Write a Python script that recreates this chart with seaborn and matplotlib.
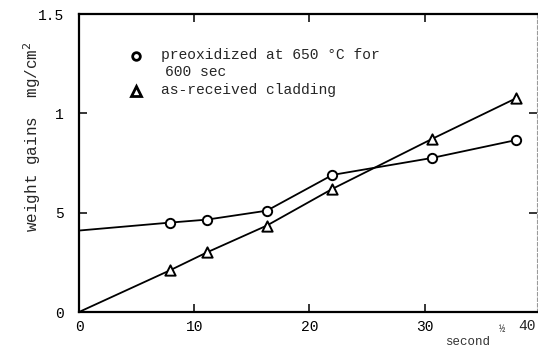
import matplotlib
matplotlib.use("Agg")
import matplotlib.pyplot as plt
import seaborn as sns
import pandas as pd

# square root of oxidation time (s^1/2)
time_sqrt = [7.9, 11.1, 16.3, 22.0, 30.6, 37.9]
preoxidized = [0.45, 0.465, 0.51, 0.69, 0.775, 0.865]
as_received = [0.21, 0.30, 0.435, 0.62, 0.87, 1.075]
preoxidized_start = 0.41
as_received_start = 0.0

x_ticks = [0, 10, 20, 30, 40]
x_tick_labels = ["0", "10", "20", "30", "40"]
y_ticks = [0, 0.5, 1.0, 1.5]
y_tick_labels = ["0", "5", "1", "1.5"]

sns.set_theme(style="ticks")
plt.rcParams["font.family"] = ["Liberation Mono", "DejaVu Sans Mono"]

fig = plt.figure(figsize=(5.38, 3.51), dpi=100)
ax = fig.add_axes([79 / 538, 1 - 312 / 351, (537 - 79) / 538, (312 - 14) / 351])

line_pre = pd.DataFrame({"x": [0.0] + time_sqrt, "y": [preoxidized_start] + preoxidized})
line_asr = pd.DataFrame({"x": [0.0] + time_sqrt, "y": [as_received_start] + as_received})
pts_pre = pd.DataFrame({"x": time_sqrt, "y": preoxidized})
pts_asr = pd.DataFrame({"x": time_sqrt, "y": as_received})

sns.lineplot(data=line_pre, x="x", y="y", ax=ax, color="black", lw=1.3, zorder=2)
sns.lineplot(data=line_asr, x="x", y="y", ax=ax, color="black", lw=1.3, zorder=2)
sns.scatterplot(data=pts_pre, x="x", y="y", ax=ax, marker="o", s=45,
                facecolor="white", edgecolor="black", linewidth=1.4, zorder=3)
sns.scatterplot(data=pts_asr, x="x", y="y", ax=ax, marker="^", s=55,
                facecolor="white", edgecolor="black", linewidth=1.4, zorder=3)

ax.set_xlim(0, 39.75)
ax.set_ylim(0, 1.5)
ax.set_xticks(x_ticks[:-1])
ax.set_xticklabels(x_tick_labels[:-1], fontsize=10.5)
ax.set_yticks(y_ticks)
ax.set_yticklabels(y_tick_labels, fontsize=10.5)
ax.tick_params(axis="both", direction="in", length=6, width=1.1, top=True, right=True,
               colors="black")
ax.tick_params(axis="x", pad=6)
ax.tick_params(axis="y", pad=11)
ax.set_xlabel("")
ax.set_ylabel("")

for side in ["left", "bottom", "top"]:
    ax.spines[side].set_color("black")
    ax.spines[side].set_linewidth(1.6)
ax.spines["right"].set_color("#9a9a9a")
ax.spines["right"].set_linewidth(0.8)
ax.spines["right"].set_linestyle((0, (3, 2)))

# right-most x tick label sits at the figure edge
fig.text(527 / 538, 1 - 326 / 351, "40", ha="center", va="center", fontsize=10.5)

# axis titles
fig.text(32 / 538, 1 - 137 / 351, "weight gains  mg/cm$^2$", rotation=90,
         ha="center", va="center", fontsize=11.5)
fig.text(468 / 538, 1 - 342 / 351, "second", ha="center", va="center", fontsize=9,
         color="#333333")
fig.text(502 / 538, 1 - 329 / 351, "½", ha="center", va="center", fontsize=7.5,
         color="#333333")

# legend block
fig.text(161 / 538, 1 - 55 / 351, "preoxidized at 650 °C for", ha="left", va="center",
         fontsize=10.5)
fig.text(165 / 538, 1 - 72 / 351, "600 sec", ha="left", va="center", fontsize=10.5)
fig.text(161 / 538, 1 - 90 / 351, "as-received cladding", ha="left", va="center",
         fontsize=10.5)
fig.add_artist(plt.Line2D([136 / 538], [1 - 56 / 351], marker="o", ms=5.5, mfc="white",
                          mec="black", mew=2, transform=fig.transFigure))
fig.add_artist(plt.Line2D([136 / 538], [1 - 91 / 351], marker="^", ms=6.5, mfc="white",
                          mec="black", mew=2, transform=fig.transFigure))

fig.savefig("out.png", dpi=100)
